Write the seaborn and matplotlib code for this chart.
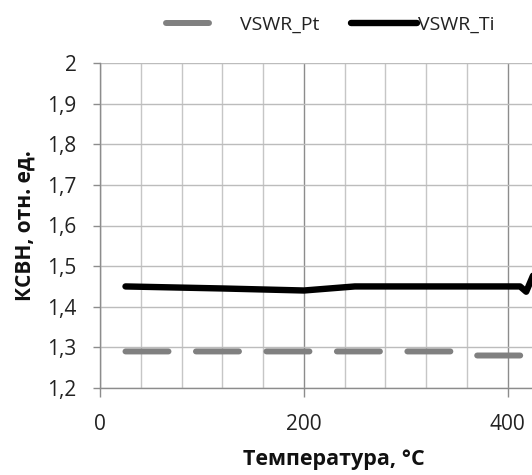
import numpy as np
import pandas as pd
import matplotlib
matplotlib.use("Agg")
import matplotlib.pyplot as plt
import seaborn as sns
from matplotlib.ticker import MultipleLocator

# ---- data ----
temp_pt = [25, 100, 200, 300, 350, 362, 420]
vswr_pt = [1.29, 1.29, 1.29, 1.29, 1.29, 1.28, 1.28]
temp_ti = [25, 120, 200, 250, 300, 350, 412, 418, 432]
vswr_ti = [1.45, 1.445, 1.44, 1.45, 1.45, 1.45, 1.45, 1.437, 1.52]
series_names = ["VSWR_Pt", "VSWR_Ti"]
y_ticks = [1.2, 1.3, 1.4, 1.5, 1.6, 1.7, 1.8, 1.9, 2.0]
y_labels = ["1,2", "1,3", "1,4", "1,5", "1,6", "1,7", "1,8", "1,9", "2"]
x_ticks = [0, 200, 400]
x_labels = ["0", "200", "400"]
x_label = "Температура, °C"
y_label = "КСВН, отн. ед."

sns.set_theme(style="white")
plt.rcParams["font.family"] = ["Open Sans", "DejaVu Sans"]

W, H = 532, 475
fig = plt.figure(figsize=(W / 100, H / 100), dpi=100)
ax = fig.add_axes([100 / W, 1 - 388 / H, 468 / W, 325 / H])

df_pt = pd.DataFrame({"t": temp_pt, "v": vswr_pt})
df_ti = pd.DataFrame({"t": temp_ti, "v": vswr_ti})

sns.lineplot(data=df_pt, x="t", y="v", ax=ax, color="#808080", lw=4.3,
             linestyle=(0, (7.2, 4.6)), dash_capstyle="round",
             solid_capstyle="round", label=series_names[0], legend=False)
sns.lineplot(data=df_ti, x="t", y="v", ax=ax, color="black", lw=4.6,
             solid_capstyle="round", solid_joinstyle="round",
             label=series_names[1], legend=False)

ax.set_xlim(0, 459)
ax.set_ylim(1.2, 2.0)
ax.set_yticks(y_ticks)
ax.set_yticklabels(y_labels)
ax.set_xticks(x_ticks)
ax.set_xticklabels(x_labels)
ax.xaxis.set_minor_locator(MultipleLocator(40))

ax.set_axisbelow(True)
ax.yaxis.grid(True, which="major", color="#bcbcbc", lw=1.0)
ax.xaxis.grid(True, which="minor", color="#c6c6c6", lw=1.0)
ax.xaxis.grid(True, which="major", color="#8c8c8c", lw=1.0)

for s in ["top", "right"]:
    ax.spines[s].set_visible(False)
for s in ["left", "bottom"]:
    ax.spines[s].set_color("#8c8c8c")
    ax.spines[s].set_linewidth(1.0)

ax.tick_params(axis="y", which="major", direction="out", length=5, width=1,
               color="#8c8c8c", pad=12, labelsize=15, labelcolor="#222222", left=True)
ax.tick_params(axis="x", which="major", direction="out", length=6.5, width=1,
               color="#8c8c8c", pad=12, labelsize=15, labelcolor="#222222", bottom=True)
ax.tick_params(axis="x", which="minor", length=0)

ax.set_xlabel(x_label, fontsize=15.5, fontweight="bold", color="#111111", va="center")
ax.xaxis.set_label_coords(0.5, (388 - 460) / 325)
ax.set_ylabel(y_label, fontsize=15, fontweight="bold", color="#111111", va="center")
ax.yaxis.set_label_coords((25 - 100) / 468, 0.5)

lines = ax.get_lines()
line_pt, line_ti = lines[0], lines[1]
fs = 14
fs_px = fs * 100 / 72
fig.legend(handles=[line_pt], labels=[series_names[0]], loc="center left",
           bbox_to_anchor=(166 / W, 1 - 25 / H), frameon=False, borderpad=0,
           borderaxespad=0, handlelength=43 / fs_px, handletextpad=1.6,
           fontsize=fs, labelcolor="#222222")
fig.legend(handles=[line_ti], labels=[series_names[1]], loc="center left",
           bbox_to_anchor=(351 / W, 1 - 25 / H), frameon=False, borderpad=0,
           borderaxespad=0, handlelength=66 / fs_px, handletextpad=0.05,
           fontsize=fs, labelcolor="#222222")

fig.savefig("out.png", dpi=100)
